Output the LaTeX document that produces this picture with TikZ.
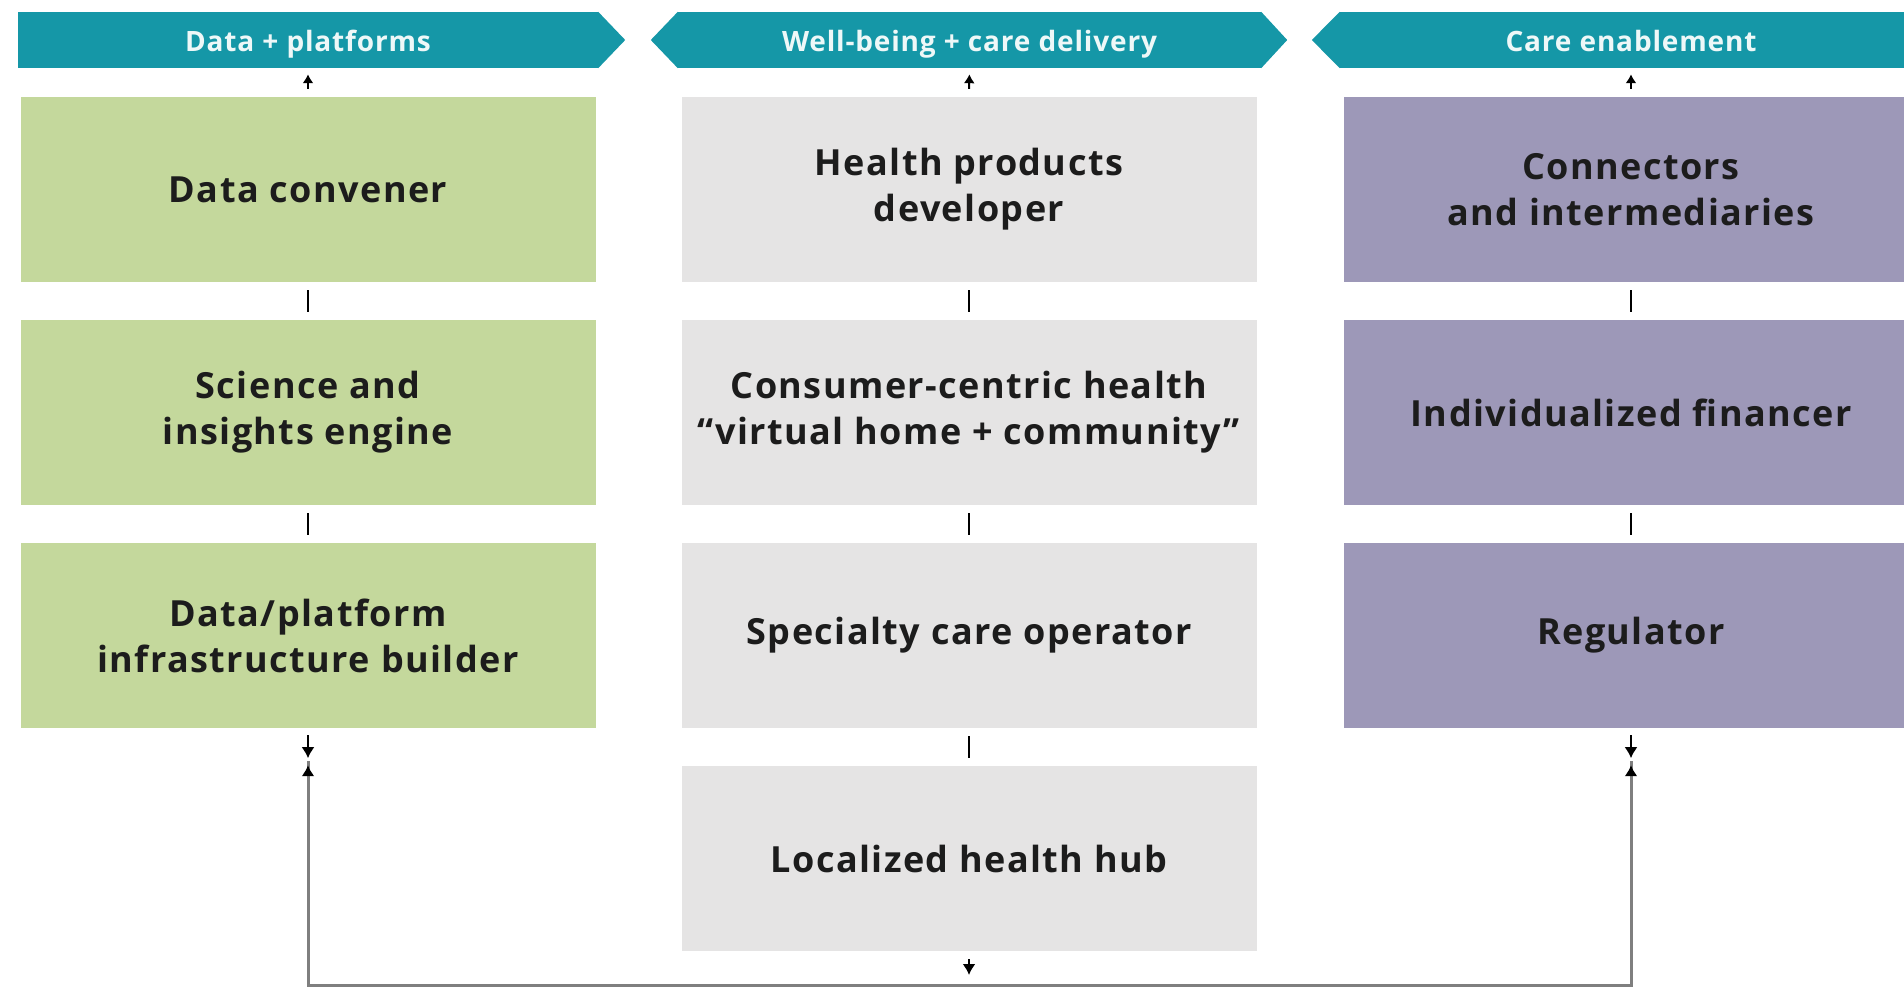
\documentclass[tikz,border=0pt]{standalone}
\usepackage{fontspec}
\setmainfont{Open Sans}
\newfontfamily\boxfont[LetterSpace=4]{Open Sans}
\newfontfamily\hdrfont[LetterSpace=3]{Open Sans}
\usetikzlibrary{arrows.meta,calc}
\definecolor{hdr}{HTML}{1597A7}
\definecolor{grn}{HTML}{C4D89C}
\definecolor{gry}{HTML}{E5E4E4}
\definecolor{prp}{HTML}{9D98B8}
\definecolor{txt}{HTML}{1C1C1C}
\definecolor{lne}{HTML}{7F7F7F}
\definecolor{htx}{HTML}{EEF8F8}
\begin{document}
\begin{tikzpicture}[x=1pt,y=-1pt,
  box/.style={minimum width=575pt, minimum height=185pt, inner sep=0pt, align=center,
    font=\boxfont\fontsize{36}{46}\selectfont\bfseries, text=txt},
  hbox/.style={fill=hdr, minimum height=56pt, inner sep=0pt, text=htx,
    text height=26pt, text depth=2pt,
    font=\hdrfont\fontsize{28}{32}\selectfont\bfseries},
  uparr/.style={draw=black, line width=2pt, -{Latex[length=9pt,width=11pt]}, shorten <=8pt, shorten >=6pt},
  sep/.style={draw=black, line width=2pt, shorten <=8pt, shorten >=8pt},
  dnarr/.style={draw=black, line width=2pt, -{Latex[length=11pt,width=13pt]}},
  feed/.style={draw=lne, line width=3pt},
]
\useasboundingbox (0,0) rectangle (1904,987);
\clip (0,0) rectangle (1904,987);

% headers
\node[hbox, minimum width=580pt] (h1) at (308,40) {Data + platforms};
\node[hbox, minimum width=583pt] (h2) at (969.5,40) {Well-being + care delivery};
\node[hbox, minimum width=582pt] (h3) at (1631,40) {Care enablement};
\fill[hdr] (h1.north east) -- ($(h1.east)+(27,0)$) -- (h1.south east) -- cycle;
\fill[hdr] (h2.north east) -- ($(h2.east)+(26,0)$) -- (h2.south east) -- cycle;
\fill[hdr] (h2.north west) -- ($(h2.west)+(-27,0)$) -- (h2.south west) -- cycle;
\fill[hdr] (h3.north west) -- ($(h3.west)+(-28,0)$) -- (h3.south west) -- cycle;

% column 1
\node[box, fill=grn] (b11) at (308,189.5) {Data convener};
\node[box, fill=grn] (b12) at (308,412.5) {Science and\\insights engine};
\node[box, fill=grn] (b13) at (308,635.5) {Data/platform\\infrastructure builder};

% column 2
\node[box, fill=gry] (b21) at (969,189.5) {Health products\\developer};
\node[box, fill=gry] (b22) at (969,412.5) {Consumer-centric health\\“virtual home + community”};
\node[box, fill=gry] (b23) at (969,635.5) {Specialty care operator};
\node[box, fill=gry] (b24) at (969,858.5) {Localized health hub};

% column 3
\node[box, fill=prp] (b31) at (1631,189.5) {Connectors\\and intermediaries};
\node[box, fill=prp] (b32) at (1631,412.5) {Individualized financer};
\node[box, fill=prp] (b33) at (1631,635.5) {Regulator};

% arrows to headers
\draw[uparr] (b11.north) -- (h1.south);
\draw[uparr] (b21.north) -- (h2.south);
\draw[uparr] (b31.north -| h3.south) -- (h3.south);

% separators
\draw[sep] (b11.south) -- (b12.north);
\draw[sep] (b12.south) -- (b13.north);
\draw[sep] (b21.south) -- (b22.north);
\draw[sep] (b22.south) -- (b23.north);
\draw[sep] (b23.south) -- (b24.north);
\draw[sep] (b31.south) -- (b32.north);
\draw[sep] (b32.south) -- (b33.north);

% feedback loop
\coordinate (j1) at (b13.south |- 0,985);
\coordinate (j2) at (b24.south |- 0,985);
\coordinate (j3) at (b33.south |- 0,985);
\coordinate (g1) at ($(b13.south)+(0,33)$);
\coordinate (g3) at ($(b33.south)+(0,33)$);
\draw[feed] (g1) -- (j1) -- (j3) -- (g3);
\draw[dnarr, shorten <=7pt, shorten >=3pt] (b13.south) -- (g1);
\draw[dnarr, shorten <=7pt, shorten >=3pt] (b33.south) -- (g3);
\draw[dnarr, draw=lne, line width=3pt, -{Latex[length=11pt,width=13pt,color=black]}, shorten >=4pt] ($(j1)+(0,-1.5)$) -- (g1);
\draw[dnarr, draw=lne, line width=3pt, -{Latex[length=11pt,width=13pt,color=black]}, shorten >=4pt] ($(j3)+(0,-1.5)$) -- (g3);
\draw[dnarr, shorten <=8pt, shorten >=10pt] (b24.south) -- (j2);
\end{tikzpicture}
\end{document}
